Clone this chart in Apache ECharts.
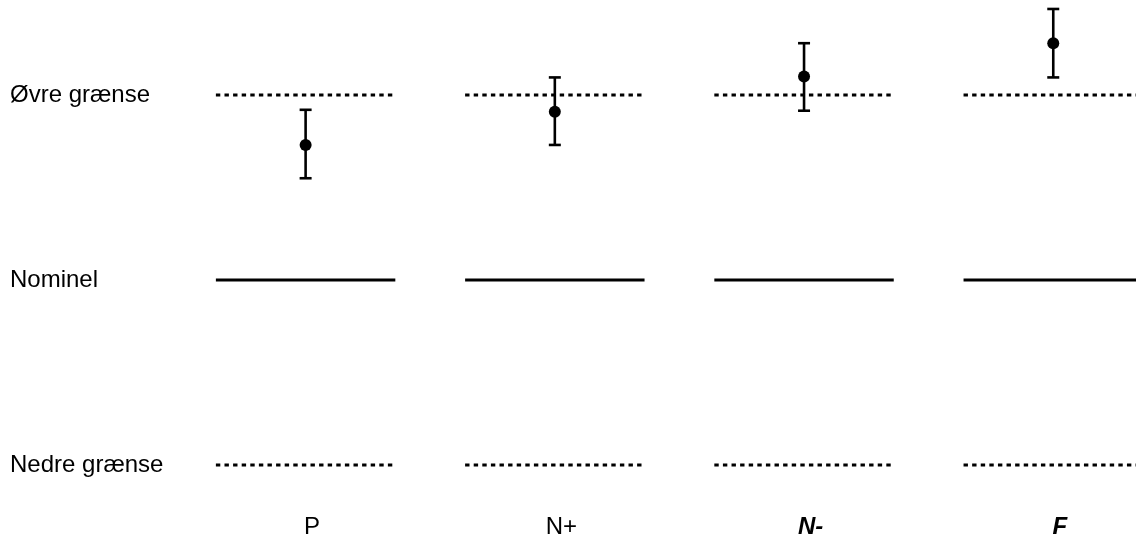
<!DOCTYPE html>
<html>
<head>
<meta charset="utf-8">
<script src="https://cdn.jsdelivr.net/npm/echarts@6/dist/echarts.min.js"></script>
<style>
html,body{margin:0;padding:0;background:#fff;}
#chart{width:1136px;height:535px;}
</style>
</head>
<body>
<div id="chart"></div>
<script>
// ---- data ----
const categories = ['P', 'N+', 'N-', 'F'];
const emphasisCategories = ['N-', 'F'];
const meanValues = [7.3, 9.1, 11.0, 12.8];
const lowValues = [5.5, 7.3, 9.15, 10.95];
const highValues = [9.2, 10.95, 12.8, 14.65];
const upperLimit = 10;
const nominalValue = 0;
const lowerLimit = -10;
const yTickValues = [-10, 0, 10];
const yTickLabels = ['Nedre grænse', 'Nominel', 'Øvre grænse'];
const xTickValues = [0, 1, 2, 3];

const FONT = 'Liberation Sans, Arial, sans-serif';

function segmentRenderer(dashed) {
  return function (params, api) {
    const c = api.coord([api.value(0), api.value(1)]);
    const unit = api.size([1, 0])[0];
    const half = unit * 0.36;
    return {
      type: 'line',
      shape: { x1: c[0] - half, y1: c[1], x2: c[0] + half, y2: c[1] },
      style: dashed
        ? { stroke: '#000', lineWidth: 3, lineDash: [4.4, 4.2] }
        : { stroke: '#000', lineWidth: 3 }
    };
  };
}

const chart = echarts.init(document.getElementById('chart'), null, { renderer: 'canvas' });
chart.setOption({
  animation: false,
  backgroundColor: '#fff',
  grid: { left: 181, top: 2.5, right: 0, bottom: 33, containLabel: false, outerBoundsMode: 'none' },
  xAxis: {
    type: 'value',
    min: -0.5,
    max: 3.332,
    axisLine: { show: false },
    axisTick: { show: false },
    splitLine: { show: false },
    axisLabel: {
      customValues: xTickValues,
      margin: 13,
      padding: [0, 0, 0, 13],
      fontFamily: FONT,
      fontSize: 24,
      color: '#000',
      hideOverlap: false,
      formatter: v => {
        const name = categories[Math.round(v)];
        if (name === undefined) return '';
        return emphasisCategories.includes(name) ? '{bi|' + name + '}' : '{n|' + name + '}';
      },
      rich: {
        n: { fontFamily: FONT, fontSize: 24, color: '#000' },
        bi: { fontFamily: FONT, fontSize: 24, color: '#000', fontWeight: 'bold', fontStyle: 'italic' }
      }
    }
  },
  yAxis: {
    type: 'value',
    min: -12,
    max: 15,
    axisLine: { show: false },
    axisTick: { show: false },
    splitLine: { show: false },
    axisLabel: {
      customValues: yTickValues,
      align: 'left',
      margin: 171,
      padding: [6, 0, 0, 0],
      fontFamily: FONT,
      fontSize: 24,
      color: '#000',
      formatter: v => {
        const i = yTickValues.indexOf(v);
        return i >= 0 ? yTickLabels[i] : '';
      }
    }
  },
  series: [
    {
      type: 'custom',
      name: 'upper',
      renderItem: segmentRenderer(true),
      data: categories.map((c, i) => [i, upperLimit]),
      clip: false,
      silent: true
    },
    {
      type: 'custom',
      name: 'nominal',
      renderItem: segmentRenderer(false),
      data: categories.map((c, i) => [i, nominalValue]),
      clip: false,
      silent: true
    },
    {
      type: 'custom',
      name: 'lower',
      renderItem: segmentRenderer(true),
      data: categories.map((c, i) => [i, lowerLimit]),
      clip: false,
      silent: true
    },
    {
      type: 'custom',
      name: 'errorbars',
      renderItem: function (params, api) {
        const lo = api.coord([api.value(0), api.value(1)]);
        const hi = api.coord([api.value(0), api.value(2)]);
        const cap = 6;
        const st = { stroke: '#000', lineWidth: 2.6 };
        return {
          type: 'group',
          children: [
            { type: 'line', shape: { x1: lo[0], y1: lo[1], x2: hi[0], y2: hi[1] }, style: st },
            { type: 'line', shape: { x1: lo[0] - cap, y1: lo[1], x2: lo[0] + cap, y2: lo[1] }, style: st },
            { type: 'line', shape: { x1: hi[0] - cap, y1: hi[1], x2: hi[0] + cap, y2: hi[1] }, style: st }
          ]
        };
      },
      data: categories.map((c, i) => [i, lowValues[i], highValues[i]]),
      clip: false,
      silent: true
    },
    {
      type: 'scatter',
      name: 'mean',
      data: categories.map((c, i) => [i, meanValues[i]]),
      symbol: 'circle',
      symbolSize: 12,
      itemStyle: { color: '#000', opacity: 1 },
      clip: false,
      silent: true
    }
  ]
});
</script>
</body>
</html>
